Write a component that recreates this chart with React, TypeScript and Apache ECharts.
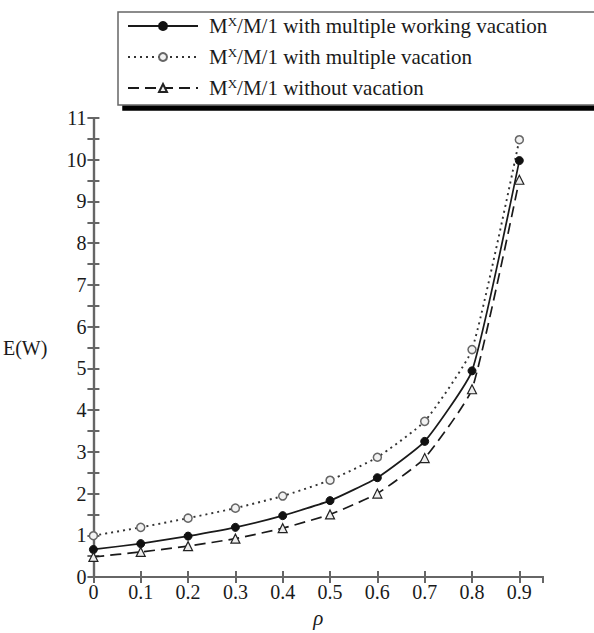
import React, { useEffect, useRef } from "react";
import * as echarts from "echarts";

const rho = [0, 0.1, 0.2, 0.3, 0.4, 0.5, 0.6, 0.7, 0.8, 0.9];
const workingVacation = [0.66, 0.8, 0.98, 1.19, 1.47, 1.83, 2.38, 3.25, 4.94, 9.98];
const multipleVacation = [0.99, 1.19, 1.41, 1.65, 1.94, 2.32, 2.87, 3.73, 5.45, 10.48];
const withoutVacation = [0.48, 0.6, 0.74, 0.92, 1.17, 1.5, 2.0, 2.85, 4.5, 9.52];
const seriesNames = [
  "M^X/M/1 with multiple working vacation",
  "M^X/M/1 with multiple vacation",
  "M^X/M/1 without vacation",
];

const FONT = "'Liberation Serif', 'Times New Roman', serif";
const INK = "#1a1a1a";

function pairs(ys: number[]) {
  return rho.map((x, i) => [x, ys[i]]);
}

export default function App() {
  const ref = useRef<HTMLDivElement>(null);
  useEffect(() => {
    if (!ref.current) return;
    const chart = echarts.init(ref.current, undefined, { renderer: "svg" });
    const axisLine = { show: true, lineStyle: { color: "#666", width: 2.2 } };
    const axisTick = { show: true, inside: true, length: 6, lineStyle: { color: "#666", width: 2 } };
    chart.setOption({
      animation: false,
      backgroundColor: "#fff",
      textStyle: { fontFamily: FONT, color: INK },
      grid: { left: 81, right: 51, top: 118, bottom: 55, containLabel: false },
      legend: {
        data: seriesNames,
        orient: "vertical",
        left: 118,
        top: 12,
        padding: [3, 70, 6, 9],
        itemGap: 9,
        itemWidth: 70,
        itemHeight: 10,
        backgroundColor: "#fff",
        borderColor: "#666",
        borderWidth: 1.5,
        borderRadius: 0,
        shadowColor: "#000",
        shadowBlur: 0,
        shadowOffsetX: 5,
        shadowOffsetY: 5,
        formatter: (name: string) => {
          const rest = name.replace("M^X", "");
          return "{m0|M}{sup|X}{m|" + rest + "}";
        },
        textStyle: {
          fontFamily: FONT,
          color: INK,
          fontSize: 21,
          lineHeight: 22,
          rich: {
            m0: { fontFamily: FONT, fontSize: 21, lineHeight: 22, color: INK, padding: [0, 0, 0, 6] },
            m: { fontFamily: FONT, fontSize: 21, lineHeight: 22, color: INK },
            sup: { fontFamily: FONT, fontSize: 13, color: INK, verticalAlign: "top", padding: [0, 0, 8, 0] },
          },
        },
      },
      xAxis: [
        {
          type: "value",
          min: 0,
          max: 0.95,
          interval: 0.1,
          name: "ρ",
          nameLocation: "middle",
          nameGap: 30,
          nameTextStyle: { fontFamily: FONT, fontSize: 21, fontStyle: "italic", color: INK },
          axisLine,
          axisTick,
          splitLine: { show: false },
          axisLabel: {
            fontFamily: FONT,
            fontSize: 20,
            color: INK,
            margin: 5,
            showMaxLabel: false,
            formatter: (v: number) => (v > 0.91 ? "" : String(Math.round(v * 10) / 10)),
          },
        },
        {
          type: "value",
          min: 0,
          max: 0.95,
          interval: 0.1,
          position: "top",
          axisLine,
          axisTick,
          axisLabel: { show: false },
          splitLine: { show: false },
        },
      ],
      yAxis: [
        {
          type: "value",
          min: 0,
          max: 11,
          interval: 0.5,
          name: "E(W)",
          nameLocation: "middle",
          nameRotate: 0,
          nameGap: 46,
          nameTextStyle: { fontFamily: FONT, fontSize: 20, color: INK },
          axisLine,
          axisTick,
          splitLine: { show: false },
          axisLabel: {
            fontFamily: FONT,
            fontSize: 20,
            color: INK,
            margin: 7,
            formatter: (v: number) => (Math.abs(v - Math.round(v)) < 1e-6 ? String(Math.round(v)) : ""),
          },
        },
        {
          type: "value",
          min: 0,
          max: 11,
          interval: 0.5,
          position: "right",
          axisLine,
          axisTick,
          axisLabel: { show: false },
          splitLine: { show: false },
        },
      ],
      series: [
        {
          name: seriesNames[0],
          type: "line",
          data: pairs(workingVacation),
          smooth: 0.15,
          symbol: "circle",
          symbolSize: 8,
          lineStyle: { color: INK, width: 1.7, type: "solid" },
          itemStyle: { color: "#111", borderColor: "#111", borderWidth: 1 },
        },
        {
          name: seriesNames[1],
          type: "line",
          data: pairs(multipleVacation),
          smooth: 0.15,
          symbol: "circle",
          symbolSize: 8,
          lineStyle: { color: "#333", width: 1.9, type: [2, 4] },
          itemStyle: { color: "#f2f2f2", borderColor: "#666", borderWidth: 1.5 },
        },
        {
          name: seriesNames[2],
          type: "line",
          data: pairs(withoutVacation),
          smooth: 0.15,
          symbol: "triangle",
          symbolSize: 9,
          lineStyle: { color: INK, width: 1.7, type: [11, 6] },
          itemStyle: { color: "#eee", borderColor: "#222", borderWidth: 1.2 },
        },
      ],
    });
    return () => chart.dispose();
  }, []);
  return (
    <div
      ref={ref}
      style={{ position: "absolute", left: 0, top: 0, width: 594, height: 633 }}
    />
  );
}
